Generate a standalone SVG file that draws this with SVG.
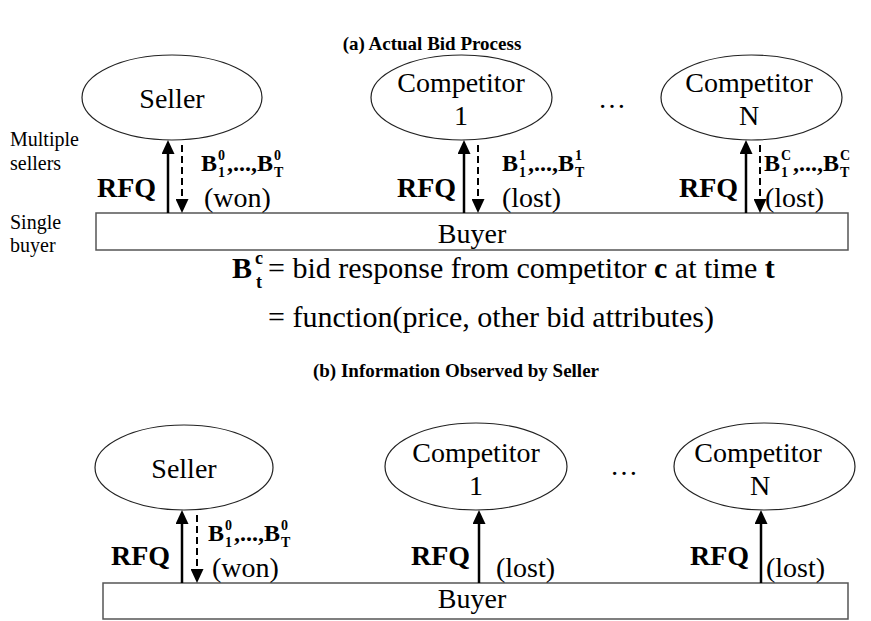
<svg xmlns="http://www.w3.org/2000/svg" width="871" height="621" viewBox="0 0 871 621" font-family="'Liberation Serif', 'Times New Roman', serif">
<style>
text{font-family:"Liberation Serif","Times New Roman",serif;fill:#000}
.title{font-size:19px;font-weight:bold;text-anchor:middle}
.node{font-size:28px;text-anchor:middle}
.side{font-size:20px}
.rfq{font-size:28px;font-weight:bold}
.b{font-size:24px;font-weight:bold}
.s{font-size:14px;font-weight:bold}
.st{font-size:28px}
.eq{font-size:30px}
.eqb{font-size:30px;font-weight:bold}
.eqs{font-size:18px;font-weight:bold}
ellipse{fill:#fff;stroke:#222;stroke-width:1.2}
rect{fill:#fff;stroke:#555;stroke-width:1.5}
.solid{stroke:#000;stroke-width:2.5;fill:none;marker-end:url(#ah)}
.dash{stroke:#000;stroke-width:2;fill:none;stroke-dasharray:7 4;marker-end:url(#ah)}
</style>
<defs>
<marker id="ah" viewBox="0 0 14 13" refX="8" refY="6.5" markerWidth="14" markerHeight="13" markerUnits="userSpaceOnUse" orient="auto">
<path d="M0,0 L14,6.5 L0,13 z" fill="#000"/>
</marker>
</defs>

<text class="title" x="432" y="50">(a) Actual Bid Process</text>
<text class="side" x="10" y="146">Multiple</text>
<text class="side" x="10" y="170">sellers</text>
<text class="side" x="10" y="229">Single</text>
<text class="side" x="10" y="252">buyer</text>

<g id="seller-a">
<ellipse cx="172" cy="97.5" rx="90" ry="42.5"/>
<text class="node" x="172" y="108">Seller</text>
</g>
<g id="comp1-a">
<ellipse cx="461.5" cy="97.5" rx="90.5" ry="42.5"/>
<text class="node" x="461" y="92">Competitor</text>
<text class="node" x="461" y="125">1</text>
</g>
<text class="node" x="612" y="108">…</text>
<g id="compN-a">
<ellipse cx="751.5" cy="97.5" rx="90.5" ry="42.5"/>
<text class="node" x="749" y="92">Competitor</text>
<text class="node" x="749" y="125">N</text>
</g>
<g id="buyer-a">
<rect x="96" y="213" width="752" height="37"/>
<text class="node" x="472" y="243">Buyer</text>
</g>

<g id="connectors-a">
<line class="solid" x1="168" y1="213" x2="168" y2="146"/>
<line class="dash" x1="182" y1="145" x2="182" y2="207"/>
<line class="solid" x1="464" y1="213" x2="464" y2="146"/>
<line class="dash" x1="478" y1="145" x2="478" y2="207"/>
<line class="solid" x1="746" y1="213" x2="746" y2="146"/>
<line class="dash" x1="760" y1="145" x2="760" y2="207"/>
</g>

<g id="labels-a">
<text class="rfq" x="97" y="197">RFQ</text>
<text class="b" x="201" y="171">B</text><text class="s" x="218" y="160">0</text><text class="s" x="218" y="177">1</text>
<text class="b" x="227" y="171">,...,</text><text class="b" x="257" y="171">B</text><text class="s" x="274" y="160">0</text><text class="s" x="274" y="177">T</text>
<text class="st" x="204" y="207">(won)</text>

<text class="rfq" x="397" y="197">RFQ</text>
<text class="b" x="502" y="171">B</text><text class="s" x="519" y="160">1</text><text class="s" x="519" y="177">1</text>
<text class="b" x="528" y="171">,...,</text><text class="b" x="558" y="171">B</text><text class="s" x="575" y="160">1</text><text class="s" x="575" y="177">T</text>
<text class="st" x="502" y="207">(lost)</text>

<text class="rfq" x="679" y="197">RFQ</text>
<text class="b" x="764" y="171">B</text><text class="s" x="781" y="160">C</text><text class="s" x="781" y="177">1</text>
<text class="b" x="793" y="171">,...,</text><text class="b" x="823" y="171">B</text><text class="s" x="840" y="160">C</text><text class="s" x="840" y="177">T</text>
<text class="st" x="765" y="207">(lost)</text>
</g>

<g id="definition">
<text class="eqb" x="232" y="278">B</text><text class="eqs" x="255" y="264">c</text><text class="eqs" x="256" y="288">t</text>
<text class="eq" x="268" y="278">= bid response from competitor  <tspan font-weight="bold">c</tspan> at time <tspan font-weight="bold">t</tspan></text>
<text class="eq" x="268" y="327">= function(price, other bid attributes)</text>
</g>

<text class="title" x="456" y="377">(b) Information Observed by Seller</text>

<g id="seller-b">
<ellipse cx="184" cy="467.5" rx="89" ry="42.5"/>
<text class="node" x="184" y="478">Seller</text>
</g>
<g id="comp1-b">
<ellipse cx="476" cy="466.5" rx="91" ry="43.5"/>
<text class="node" x="476" y="462">Competitor</text>
<text class="node" x="476" y="495">1</text>
</g>
<text class="node" x="624" y="475">…</text>
<g id="compN-b">
<ellipse cx="764.5" cy="466.5" rx="90.5" ry="43.5"/>
<text class="node" x="758" y="462">Competitor</text>
<text class="node" x="760" y="495">N</text>
</g>
<g id="buyer-b">
<rect x="103" y="583" width="745" height="36"/>
<text class="node" x="472" y="608">Buyer</text>
</g>

<g id="connectors-b">
<line class="solid" x1="182" y1="583" x2="182" y2="516"/>
<line class="dash" x1="197" y1="515" x2="197" y2="577"/>
<line class="solid" x1="479" y1="583" x2="479" y2="516"/>
<line class="solid" x1="761" y1="583" x2="761" y2="516"/>
</g>

<g id="labels-b">
<text class="rfq" x="111" y="565">RFQ</text>
<text class="b" x="208" y="541">B</text><text class="s" x="225" y="530">0</text><text class="s" x="225" y="547">1</text>
<text class="b" x="234" y="541">,...,</text><text class="b" x="264" y="541">B</text><text class="s" x="281" y="530">0</text><text class="s" x="281" y="547">T</text>
<text class="st" x="212" y="577">(won)</text>
<text class="rfq" x="411" y="565">RFQ</text>
<text class="st" x="496" y="577">(lost)</text>
<text class="rfq" x="690" y="565">RFQ</text>
<text class="st" x="766" y="577">(lost)</text>
</g>
</svg>
